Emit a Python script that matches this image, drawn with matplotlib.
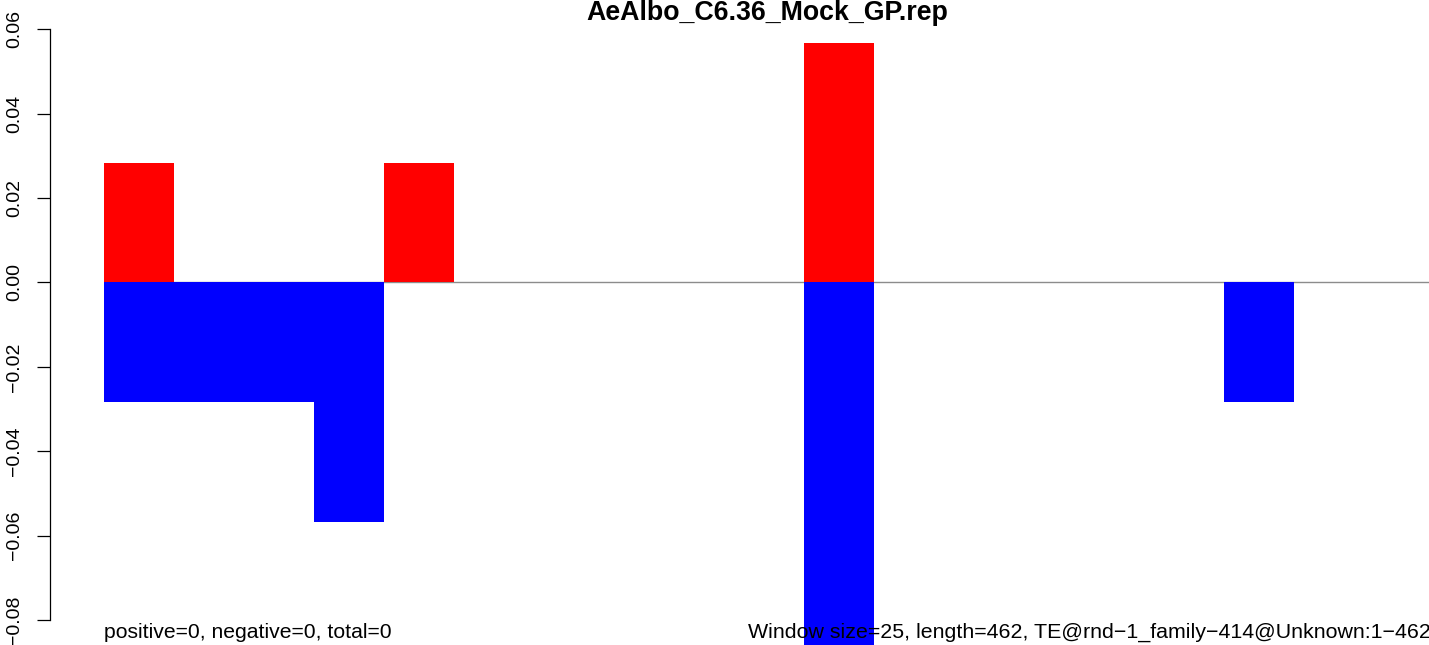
import numpy as np
import matplotlib
matplotlib.use("Agg")
import matplotlib.pyplot as plt
from matplotlib.ticker import FuncFormatter

plt.rcParams['font.family'] = ['Liberation Sans', 'DejaVu Sans']

# data: windows of 25 bp along a 462 bp TE
window = 25
length = 462
win_start = np.arange(0, length, window)          # 0, 25, ..., 450
pos_vals = [0.0284, 0, 0, 0, 0.0284, 0, 0, 0, 0, 0,
            0.0568, 0, 0, 0, 0, 0, 0, 0, 0]
neg_vals = [-0.0284, -0.0284, -0.0284, -0.0568, 0, 0, 0, 0, 0, 0,
            -0.0866, 0, 0, 0, 0, 0, -0.0284, 0, 0]
y_ticks = [-0.08, -0.06, -0.04, -0.02, 0.00, 0.02, 0.04, 0.06]

title = "AeAlbo_C6.36_Mock_GP.rep"
left_note = "positive=0, negative=0, total=0"
right_note = "Window size=25, length=462, TE@rnd\u22121_family\u2212414@Unknown:1\u2212462"

W, H = 1429, 645
fig = plt.figure(figsize=(W / 100, H / 100), dpi=100)

# plot region: axis line at x=50px, data x=0 at 104px, 2.8 px per bp
ax_left = 50
ax = fig.add_axes([ax_left / W, 0, 1 - ax_left / W, 1])
px_per_bp = 2.8
x0_px = 104
ax.set_xlim((ax_left - x0_px) / px_per_bp, (W - x0_px) / px_per_bp)

# y: 0.06 at 29.3px from top, -0.08 at 620px
y_top_px, y_bot_px = 29.3, 620.0
px_per_unit = (y_bot_px - y_top_px) / 0.14
ax.set_ylim(-0.08 - (H - y_bot_px) / px_per_unit, 0.06 + y_top_px / px_per_unit)

ax.hlines(0, 0, 500, color="#8c8c8c", linewidth=1.0, zorder=1)
ax.bar(win_start, pos_vals, width=window, align="edge", color="#ff0000",
       linewidth=0, zorder=2)
ax.bar(win_start, neg_vals, width=window, align="edge", color="#0000ff",
       linewidth=0, zorder=2)

for s in ["top", "right", "bottom"]:
    ax.spines[s].set_visible(False)
ax.spines["left"].set_bounds(-0.08, 0.06)
ax.spines["left"].set_linewidth(0.9)
ax.set_xticks([])
ax.set_yticks(y_ticks)
ax.yaxis.set_major_formatter(
    FuncFormatter(lambda v, p: f"{v:.2f}".replace("-", "\u2212")))
ax.tick_params(axis="y", length=9.4, width=0.9, pad=10, labelsize=14,
               labelrotation=90)
for lab in ax.get_yticklabels():
    lab.set_va("center")

note_y = -0.08 - (638 - y_bot_px) / px_per_unit
ax.text(0, note_y, left_note, fontsize=15.2,
        ha="left", va="baseline", zorder=3)
ax.text((748 - x0_px) / px_per_bp, note_y,
        right_note, fontsize=15.4, ha="left", va="baseline", zorder=3,
        clip_on=False)

fig.text(767 / W, 1 - 20 / H, title, fontsize=19.3, fontweight="bold",
         ha="center", va="baseline")

fig.savefig("out.png", dpi=100)
